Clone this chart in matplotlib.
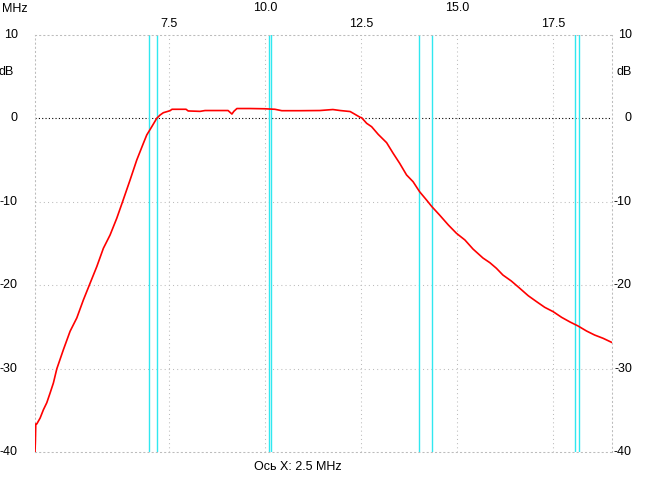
import matplotlib
matplotlib.use("Agg")
import matplotlib.pyplot as plt

plt.rcParams['font.family'] = ['Liberation Sans', 'DejaVu Sans']

# frequency response (MHz, dB)
freq = [4.00, 4.01, 4.02, 4.047, 4.133, 4.219, 4.307, 4.393, 4.479, 4.568, 4.740, 4.914,
        5.089, 5.260, 5.417, 5.609, 5.781, 5.956, 6.130, 6.276, 6.477, 6.651, 6.823,
        6.911, 7.042, 7.172, 7.258, 7.344, 7.518, 7.57, 7.935, 7.99, 8.30, 8.43, 9.03,
        9.13, 9.18, 9.26, 9.60, 9.99, 10.25, 10.43, 10.90, 11.42, 11.76, 11.95, 12.21,
        12.29, 12.47, 12.51, 12.64, 12.77, 12.94, 13.16, 13.33, 13.50, 13.68, 13.85,
        14.02, 14.20, 14.34, 14.54, 14.77, 14.98, 15.20, 15.41, 15.67, 15.85, 16.02,
        16.19, 16.41, 16.63, 16.85, 17.07, 17.28, 17.50, 17.72, 17.94, 18.15, 18.37,
        18.58, 18.80, 19.02]
gain = [-40.0, -38.7, -36.6, -36.6, -35.9, -34.9, -34.06, -32.9, -31.7, -30.0, -27.7, -25.5,
        -23.9, -21.75, -19.95, -17.76, -15.56, -13.96, -11.96, -10.05, -7.37, -4.98, -2.98,
        -1.98, -0.99, 0.02, 0.41, 0.69, 0.93, 1.10, 1.10, 0.90, 0.85, 0.95, 0.95,
        0.53, 0.85, 1.19, 1.19, 1.16, 1.10, 0.93, 0.93, 0.95, 1.07, 0.95, 0.83,
        0.62, 0.14, 0.09, -0.58, -0.99, -1.90, -2.90, -4.17, -5.37, -6.77, -7.58,
        -8.78, -9.77, -10.57, -11.57, -12.77, -13.76, -14.56, -15.64, -16.72, -17.28, -17.95,
        -18.76, -19.48, -20.35, -21.24, -21.96, -22.63, -23.15, -23.83, -24.39, -24.87, -25.47,
        -25.95, -26.34, -26.82]

markers = [6.97, 7.18, 10.10, 10.15, 14.01, 14.35, 18.07, 18.18]

x_ticks = [7.5, 10.0, 12.5, 15.0, 17.5]
x_labels = ["7.5", "10.0", "12.5", "15.0", "17.5"]
y_ticks = [10, 0, -10, -20, -30, -40]
y_labels = ["10", "0", "-10", "-20", "-30", "-40"]

W, H = 647, 487
fig = plt.figure(figsize=(W / 100, H / 100), dpi=100)
ax = fig.add_axes([35 / W, 1 - 452.3 / H, 577.3 / W, 417.3 / H])
ax.set_xlim(4.0, 19.04)
ax.set_ylim(-40, 10)

grid_kw = dict(color="#bcbcbc", lw=0.75, ls=(0, (1, 3)), zorder=1)
for xv in x_ticks:
    ax.axvline(xv, **grid_kw)
for yv in y_ticks[2:5]:
    ax.axhline(yv, **grid_kw)
for sp in ax.spines.values():
    sp.set_color("#bcbcbc")
    sp.set_linewidth(0.75)
    sp.set_linestyle((0, (1, 3)))

ax.axhline(0, color="black", lw=0.8, ls=(0, (1, 2)), zorder=2)

for m in markers:
    ax.axvline(m, color="#30e8f0", lw=1.0, zorder=2)

ax.plot(freq, gain, color="#ff0000", lw=1.2, zorder=3)

ax.set_xticks([])
ax.set_yticks([])

fs = 9
xt = ax.get_xaxis_transform()
for i, (xv, lab) in enumerate(zip(x_ticks, x_labels)):
    yy = 1.0647 if i % 2 == 1 else 1.0264
    ax.text(xv, yy, lab, transform=xt, ha="center", va="center", fontsize=fs)

yt = ax.get_yaxis_transform()
for yv, lab in zip(y_ticks, y_labels):
    ax.text(-0.030, yv, lab, transform=yt, ha="right", va="center", fontsize=fs)
    ax.text(1.034, yv, lab, transform=yt, ha="right", va="center", fontsize=fs)
ax.text(-0.036, 5.57, "dB", transform=yt, ha="right", va="center", fontsize=fs)
ax.text(1.034, 5.57, "dB", transform=yt, ha="right", va="center", fontsize=fs)

fig.text(2 / W, 1 - 8.5 / H, "MHz", ha="left", va="center", fontsize=fs)
fig.text(297.7 / W, 1 - 467.3 / H, "Ось X: 2.5 MHz", ha="center", va="center", fontsize=fs)

fig.savefig("out.png", dpi=100)
